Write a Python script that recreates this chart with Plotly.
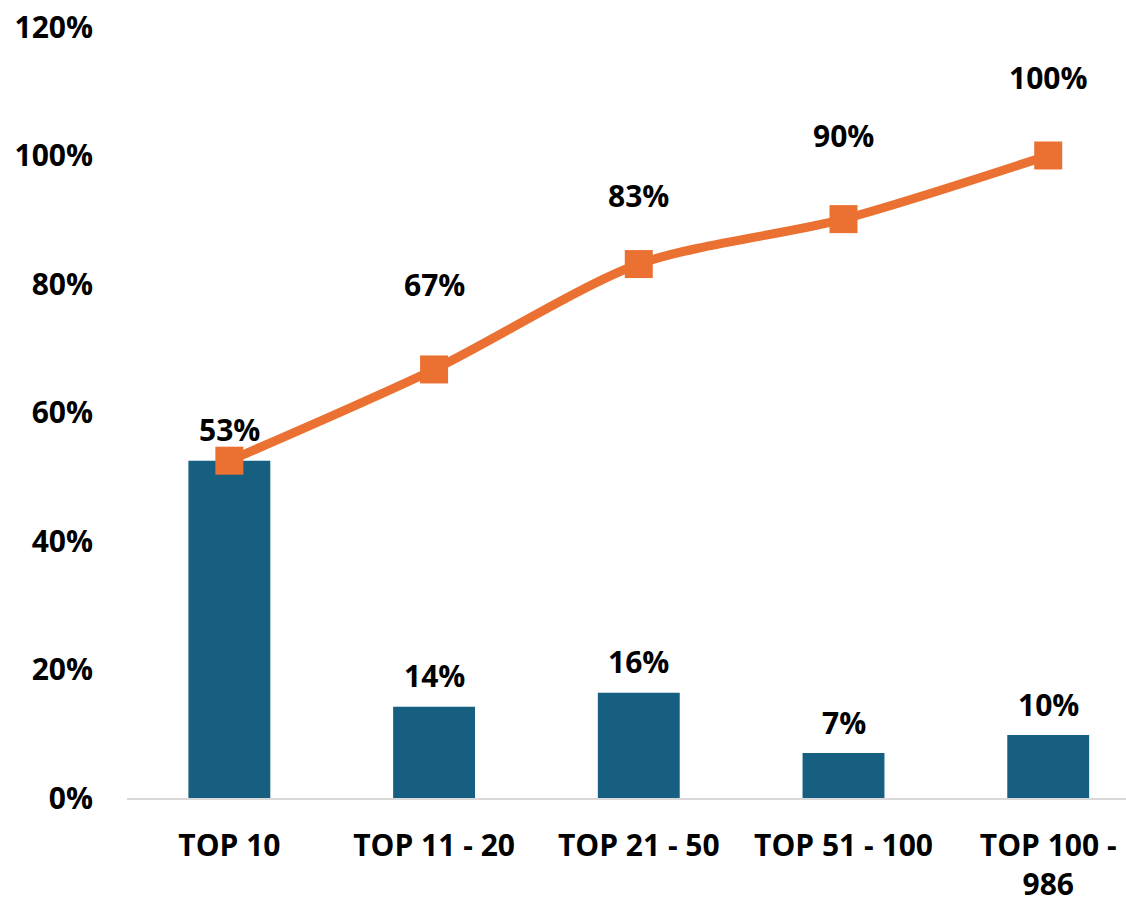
import plotly.graph_objects as go

categories = ["TOP 10", "TOP 11 - 20", "TOP 21 - 50", "TOP 51 - 100", "TOP 100 -<br>986"]
share = [0.525, 0.142, 0.164, 0.070, 0.098]
cumulative = [0.525, 0.667, 0.831, 0.901, 1.0]
share_labels = ["53%", "14%", "16%", "7%", "10%"]
cum_labels = ["", "67%", "83%", "90%", "100%"]
y_ticks = [0, 0.2, 0.4, 0.6, 0.8, 1.0, 1.2]

FONT = "Open Sans"
FS = 30
BAR_COLOR = "#175F80"
LINE_COLOR = "#EA7131"
x_idx = list(range(len(categories)))

fig = go.Figure()
fig.add_trace(go.Bar(
    x=x_idx, y=share, width=0.4, marker=dict(color=BAR_COLOR, line=dict(width=0)),
))
fig.add_trace(go.Scatter(
    x=x_idx, y=cumulative, mode="lines+markers",
    line=dict(color=LINE_COLOR, width=9, shape="spline", smoothing=0.8),
    marker=dict(symbol="square", size=28, color=LINE_COLOR), cliponaxis=False,
))

for i, (v, t) in enumerate(zip(share, share_labels)):
    fig.add_annotation(x=i, y=v, text=f"<b>{t}</b>", showarrow=False, yshift=31,
                       font=dict(family=FONT, size=FS, color="black"))

label_shift = [0, 85, 69, 84, 78]
for i, (c, t) in enumerate(zip(cumulative, cum_labels)):
    if t:
        fig.add_annotation(x=i, y=c, text=f"<b>{t}</b>", showarrow=False, yshift=label_shift[i],
                           font=dict(family=FONT, size=FS, color="black"))

fig.update_layout(
    width=1126, height=900, margin=dict(l=127, r=0, t=27, b=102),
    paper_bgcolor="white", plot_bgcolor="white", showlegend=False,
    font=dict(family=FONT, size=FS, color="black"),
)
fig.update_xaxes(
    tickmode="array", tickvals=x_idx, ticktext=[f"<b>{c}</b>" for c in categories],
    range=[-0.5, 4.38], showgrid=False, showline=True, linecolor="#D9D9D9", linewidth=2,
    ticks="", ticklabelstandoff=20, automargin=False, ticklabeloverflow="allow",
    tickfont=dict(family=FONT, size=FS, color="black"),
)
fig.update_yaxes(
    range=[0, 1.2], tickvals=y_ticks, ticktext=[f"<b>{int(v*100)}%</b>" for v in y_ticks],
    showgrid=False, showline=False, zeroline=False, ticks="", ticklabelstandoff=33,
    automargin=False, ticklabeloverflow="allow",
    tickfont=dict(family=FONT, size=FS, color="black"),
)

fig.write_html("out.html", config={"displayModeBar": False},
               post_script="document.body.style.margin='0';document.body.style.overflow='hidden';")
